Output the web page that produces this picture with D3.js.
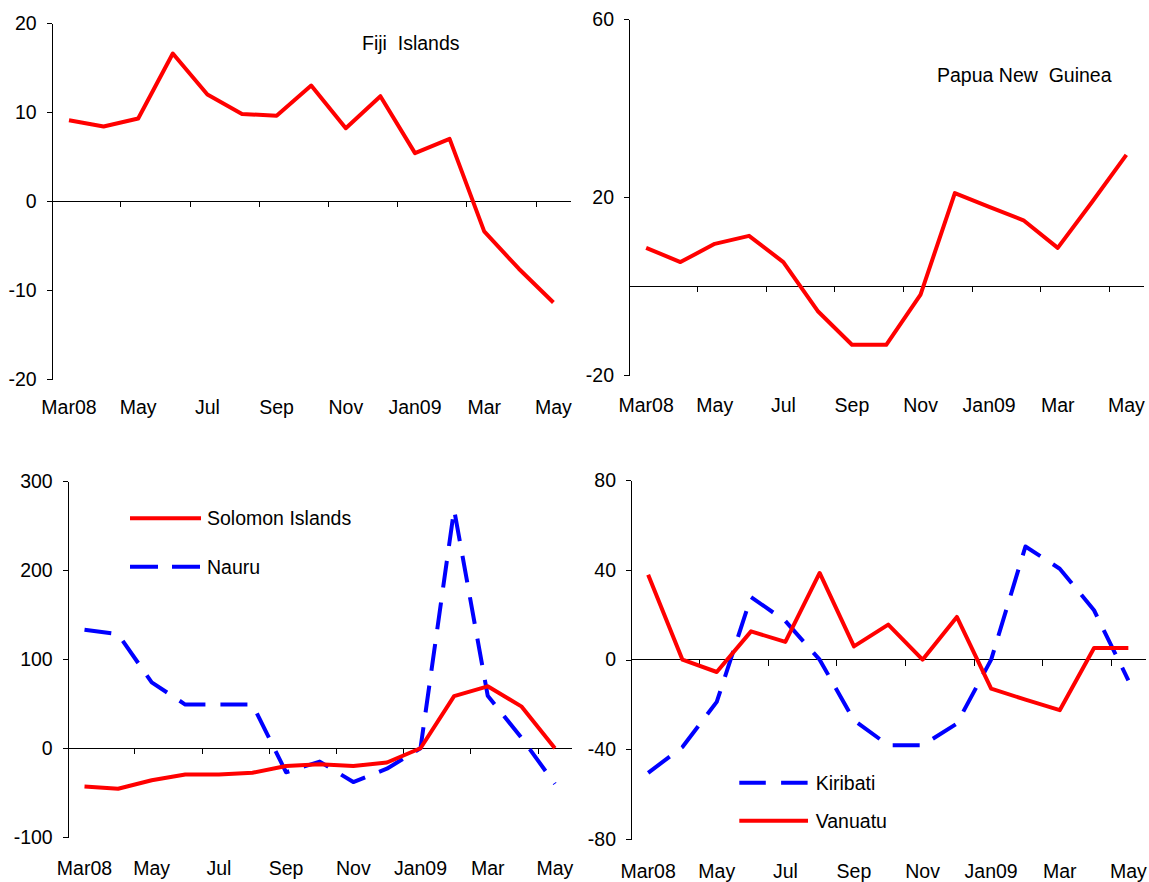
<!DOCTYPE html>
<html>
<head>
<meta charset="utf-8">
<script src="https://cdn.jsdelivr.net/npm/d3@7"></script>
<style>
  html, body { margin: 0; padding: 0; background: #fff; }
  svg { display: block; }
  text { font-family: "Liberation Sans", Arial, sans-serif; fill: #000; }
</style>
</head>
<body>
<svg id="chart" width="1149" height="882"></svg>
<script>
// ---------- DATA ----------
const months = ["Mar08","Apr08","May08","Jun08","Jul08","Aug08","Sep08","Oct08","Nov08","Dec08","Jan09","Feb09","Mar09","Apr09","May09"];
const monthLabels = ["Mar08","","May","","Jul","","Sep","","Nov","","Jan09","","Mar","","May"];

const fiji     = [9.1, 8.4, 9.3, 16.6, 12.0, 9.8, 9.6, 13.0, 8.2, 11.8, 5.4, 7.0, -3.4, -7.6, -11.4];
const png      = [8.6, 5.4, 9.5, 11.3, 5.4, -5.6, -13.2, -13.2, -1.9, 20.9, 17.8, 14.8, 8.6, 18.9, 29.5];
const solomon  = [-43, -45.5, -36, -29.5, -29.5, -27.5, -20, -18, -20, -16, 0, 58.5, 69.5, 47, 0];
const nauru    = [133, 128, 74, 49, 49, 49, -27, -15, -38, -23, 0, 268, 59, 12, -40];
const kiribati = [-50.4, -38.9, -18.8, 27.9, 17.2, 0, -27, -38.1, -38.1, -28.5, 0, 50.4, 40.5, 22, -9.2];
const vanuatu  = [37.8, 0, -5.5, 12.6, 7.9, 38.6, 5.9, 15.6, 0, 19, -12.9, -17.8, -22.5, 5.2, 5.2];

const fijiTicks = [-20, -10, 0, 10, 20];
const pngTicks = [-20, 20, 60];
const solomonTicks = [-100, 0, 100, 200, 300];
const vanuatuTicks = [-80, -40, 0, 40, 80];

// ---------- LAYOUT / STYLE ----------
const RED = "#ff0000", BLUE = "#0000ff";
const DASH = "27,15";
const svg = d3.select("#chart");

const panels = [
  { x0: 51.7, x1: 570.7, yTop: 23.3, yBot: 379, domain: [-20, 20], ticks: fijiTicks, labelY: 407,
    series: [{ name: "Fiji Islands", values: fiji, color: RED, dash: null }],
    title: { text: "Fiji  Islands", x: 362, y: 43 } },
  { x0: 629, x1: 1143.5, yTop: 19.3, yBot: 375, domain: [-20, 60], ticks: pngTicks, labelY: 405,
    series: [{ name: "Papua New Guinea", values: png, color: RED, dash: null }],
    title: { text: "Papua New  Guinea", x: 937, y: 75 } },
  { x0: 67.7, x1: 571.7, yTop: 481, yBot: 837.3, domain: [-100, 300], ticks: solomonTicks, labelY: 868,
    series: [
      { name: "Nauru", values: nauru, color: BLUE, dash: DASH },
      { name: "Solomon Islands", values: solomon, color: RED, dash: null }
    ],
    legend: { x0: 130, x1: 201, tx: 207, items: [
      { name: "Solomon Islands", color: RED, dash: null, y: 518.3 },
      { name: "Nauru", color: BLUE, dash: "28,14", y: 566.7 }
    ] } },
  { x0: 631, x1: 1145.5, yTop: 480, yBot: 839.3, domain: [-80, 80], ticks: vanuatuTicks, labelY: 870.5,
    series: [
      { name: "Kiribati", values: kiribati, color: BLUE, dash: DASH },
      { name: "Vanuatu", values: vanuatu, color: RED, dash: null }
    ],
    legend: { x0: 739.3, x1: 808, tx: 815.7, items: [
      { name: "Kiribati", color: BLUE, dash: "26.5,15.3", y: 782.7 },
      { name: "Vanuatu", color: RED, dash: null, y: 820.7 }
    ] } }
];

panels.forEach(p => {
  const g = svg.append("g");
  const x = d3.scaleBand().domain(months).range([p.x0, p.x1]).padding(0);
  const y = d3.scaleLinear().domain(p.domain).range([p.yBot, p.yTop]);
  const cx = m => x(m) + x.bandwidth() / 2;

  // y axis
  const yAxis = d3.axisLeft(y).tickValues(p.ticks).tickSize(5).tickPadding(10).tickSizeOuter(0)
    .tickFormat(d => String(d));
  const ya = g.append("g").attr("transform", `translate(${p.x0},0)`).call(yAxis);
  ya.select(".domain").attr("stroke", "#000").attr("shape-rendering", "crispEdges");
  ya.selectAll(".tick line").attr("stroke", "#000").attr("shape-rendering", "crispEdges");
  ya.selectAll(".tick text")
    .attr("font-family", '"Liberation Sans", Arial, sans-serif')
    .attr("font-size", "19.5px").attr("fill", "#000");

  // x axis at zero
  const y0 = y(0);
  g.append("line").attr("x1", p.x0).attr("x2", p.x1).attr("y1", y0).attr("y2", y0)
    .attr("stroke", "#000").attr("shape-rendering", "crispEdges");
  const tickMonths = months.filter((m, i) => i > 0 && i % 2 === 0);
  g.selectAll(".xt").data(tickMonths).enter().append("line")
    .attr("x1", d => x(d)).attr("x2", d => x(d))
    .attr("y1", y0).attr("y2", y0 + 6)
    .attr("stroke", "#000").attr("shape-rendering", "crispEdges");
  g.selectAll(".xl").data(months).enter().append("text")
    .attr("x", d => cx(d)).attr("y", p.labelY)
    .attr("text-anchor", "middle").attr("dominant-baseline", "central")
    .attr("font-size", "19.5px")
    .text((d, i) => monthLabels[i]);

  // lines
  const line = d3.line().x((d, i) => cx(months[i])).y(d => y(d));
  p.series.forEach(s => {
    g.append("path").datum(s.values)
      .attr("d", line).attr("fill", "none")
      .attr("stroke", s.color).attr("stroke-width", 4)
      .attr("stroke-linejoin", "round").attr("stroke-linecap", "butt")
      .attr("stroke-dasharray", s.dash);
  });

  if (p.title) {
    g.append("text").attr("x", p.title.x).attr("y", p.title.y)
      .attr("dominant-baseline", "central").attr("font-size", "19.5px")
      .style("white-space", "pre").attr("xml:space", "preserve")
      .text(p.title.text);
  }
  if (p.legend) {
    const L = p.legend;
    L.items.forEach(it => {
      g.append("line").attr("x1", L.x0).attr("x2", L.x1).attr("y1", it.y).attr("y2", it.y)
        .attr("stroke", it.color).attr("stroke-width", 4).attr("stroke-dasharray", it.dash);
      g.append("text").attr("x", L.tx).attr("y", it.y)
        .attr("dominant-baseline", "central").attr("font-size", "19.5px").text(it.name);
    });
  }
});
</script>
</body>
</html>
